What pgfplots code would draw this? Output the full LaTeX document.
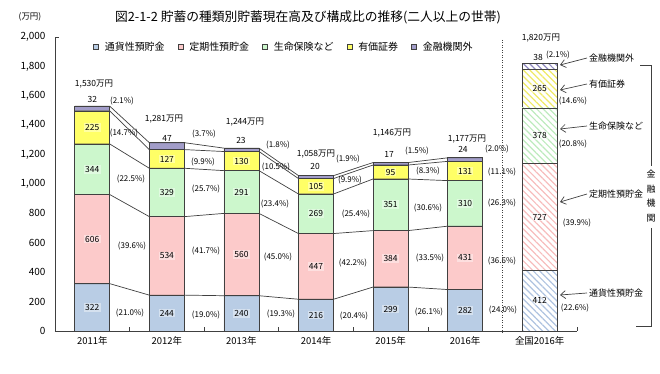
\documentclass[border=0pt]{standalone}
\usepackage{fontspec}
\setmainfont{Noto Sans CJK JP}
\usepackage{pgfplots}
\pgfplotsset{compat=1.18}
\usepackage{pgfplotstable}
\usetikzlibrary{patterns.meta,arrows.meta}

\definecolor{cA}{HTML}{B9CDE5}
\definecolor{cB}{HTML}{FCCACA}
\definecolor{cC}{HTML}{CCF7CC}
\definecolor{cD}{HTML}{FFFF66}
\definecolor{cE}{HTML}{A29DC9}
\definecolor{hA}{HTML}{AFC3E0}
\definecolor{hB}{HTML}{F7BDBD}
\definecolor{hC}{HTML}{BDEBBD}
\definecolor{hD}{HTML}{EFEA66}
\definecolor{hE}{HTML}{8F89C0}
\definecolor{edge}{HTML}{404040}

\pgfplotstableread{
x a b c d e
0 322 606 344 225 32
1 244 534 329 127 47
2 240 560 291 130 23
3 216 447 269 105 20
4 299 384 351 95 17
5 282 431 310 131 24
}\years

\pgfplotstableread{
x a b c d e
6 412 727 378 265 38
}\nation

\pgfplotstableread{
x a b c d e
-0.235 322 606 344 225 32
0.235 322 606 344 225 32
0.765 244 534 329 127 47
1.235 244 534 329 127 47
1.765 240 560 291 130 23
2.235 240 560 291 130 23
2.765 216 447 269 105 20
3.235 216 447 269 105 20
3.765 299 384 351 95 17
4.235 299 384 351 95 17
4.765 282 431 310 131 24
5.235 282 431 310 131 24
}\edges

\pgfplotstableread{
x y p
0.398 1565 2.1
0.425 1347 14.7
0.519 1034 22.5
0.533 578 39.6
0.506 122 21.0
1.498 1340 3.7
1.485 1150 9.9
1.525 966 25.7
1.525 544 41.7
1.525 109 19.0
2.490 1265 1.8
2.464 1116 10.5
2.450 864 23.4
2.490 503 45.0
2.530 116 19.3
3.429 1170 1.9
3.456 1027 9.9
3.536 796 25.4
3.496 463 42.2
3.510 102 20.4
4.354 1224 1.5
4.502 1088 8.3
4.502 837 30.6
4.529 497 33.5
4.515 129 26.1
5.427 1238 2.0
5.494 1082 11.1
5.494 871 26.3
5.494 476 36.6
5.508 143 24.0
6.245 1878 2.1
6.446 1565 14.6
6.446 1272 20.8
6.500 735 39.9
6.473 156 22.6
}\pcts

\pgfplotstableread{
x y t
0.023 1680 1,530万円
0.000 1578 32
0.962 1442 1,281万円
1.002 1313 47
2.048 1422 1,244万円
1.994 1299 23
3.000 1204 1,058万円
2.987 1116 20
4.019 1347 1,146万円
3.979 1204 17
5.025 1306 1,177万円
4.971 1238 24
6.017 1993 1,820万円
5.977 1864 38
}\tots

\pgfplotsset{
  base/.style={
    scale only axis, width=522bp, height=294bp,
    xmin=-0.5, xmax=6.5, ymin=0, ymax=2000,
    at={(55bp,43bp)}, anchor=south west, clip=false,
  },
  lbl/.style={draw=none, mark=none, forget plot,
    nodes near coords={\pgfplotspointmeta}, point meta=explicit symbolic,
    every node near coord/.append style={anchor=center, text=black,
      font=\fontsize{8.5}{10}\selectfont, inner sep=1.2pt}},
  boxlbl/.style={lbl, every node near coord/.append style={fill=white, fill opacity=0.4, text opacity=1}},
  conn/.style={draw=edge, line width=0.7bp, mark=none, forget plot},
  hatch/.style={draw=edge, line width=0.7bp, pattern={Lines[angle=-45,distance=4.5bp,line width=1.2bp]}, pattern color=#1},
}

\begin{document}
\begin{tikzpicture}
\useasboundingbox (0,0) rectangle (660bp,374bp);

% ---- axis A: yearly bars, axes, legend
\begin{axis}[base,
  ybar stacked, bar width=0.47,
  legend image code/.code={\draw[#1, line width=0.5bp] (0bp,-2.6bp) rectangle (5.2bp,2.6bp);},
  axis x line=bottom, axis y line=left,
  axis line style={-, draw=edge, line width=0.8bp},
  xtick={0,...,6},
  xticklabels={2011年,2012年,2013年,2014年,2015年,2016年,全国2016年},
  major tick length=0pt,
  extra x ticks={0.5,1.5,2.5,3.5,4.5,6.5},
  extra x tick labels={},
  extra x tick style={major tick length=4bp, tick align=inside, tick style={draw=edge, line width=0.6bp}},
  ytick={0,200,...,2000},
  /pgf/number format/assume math mode=true,
  yticklabel style={/pgf/number format/1000 sep={,}, xshift=-6bp, font=\fontsize{10}{12}\selectfont},
  xticklabel style={font=\fontsize{9.5}{11}\selectfont, yshift=-2bp},
  legend columns=5,
  legend style={at={(0.0728,0.966)}, anchor=west, draw=none, fill=none,
    font=\fontsize{10}{12}\selectfont, inner sep=0pt,
    /tikz/every odd column/.append style={column sep=4bp},
    /tikz/every even column/.append style={column sep=11bp}},
]
\addplot[fill=cA, draw=edge, line width=0.7bp] table[x=x,y=a]{\years};
\addlegendentry{通貨性預貯金}
\addplot[fill=cB, draw=edge, line width=0.7bp] table[x=x,y=b]{\years};
\addlegendentry{定期性預貯金}
\addplot[fill=cC, draw=edge, line width=0.7bp] table[x=x,y=c]{\years};
\addlegendentry{生命保険など}
\addplot[fill=cD, draw=edge, line width=0.7bp] table[x=x,y=d]{\years};
\addlegendentry{有価証券}
\addplot[fill=cE, draw=edge, line width=0.7bp] table[x=x,y=e]{\years};
\addlegendentry{金融機関外}
\end{axis}

% ---- axis B: national hatched bar
\begin{axis}[base, hide axis, ybar stacked, bar width=0.47]
\addplot[hatch=hA] table[x=x,y=a]{\nation};
\addplot[hatch=hB] table[x=x,y=b]{\nation};
\addplot[hatch=hC] table[x=x,y=c]{\nation};
\addplot[hatch=hD] table[x=x,y=d]{\nation};
\addplot[hatch=hE] table[x=x,y=e]{\nation};
\end{axis}

% ---- axis C: connecting lines and labels
\begin{axis}[base, hide axis]
\addplot[conn] table[x=x, y=a]{\edges};
\addplot[conn] table[x=x, y expr=\thisrow{a}+\thisrow{b}]{\edges};
\addplot[conn] table[x=x, y expr=\thisrow{a}+\thisrow{b}+\thisrow{c}]{\edges};
\addplot[conn] table[x=x, y expr=\thisrow{a}+\thisrow{b}+\thisrow{c}+\thisrow{d}]{\edges};
\addplot[conn] table[x=x, y expr=\thisrow{a}+\thisrow{b}+\thisrow{c}+\thisrow{d}+\thisrow{e}]{\edges};

\addplot[boxlbl] table[x=x, y expr=\thisrow{a}/2, meta=a]{\years};
\addplot[boxlbl] table[x=x, y expr=\thisrow{a}+\thisrow{b}/2, meta=b]{\years};
\addplot[boxlbl] table[x=x, y expr=\thisrow{a}+\thisrow{b}+\thisrow{c}/2, meta=c]{\years};
\addplot[boxlbl] table[x=x, y expr=\thisrow{a}+\thisrow{b}+\thisrow{c}+\thisrow{d}/2, meta=d]{\years};

\addplot[boxlbl] table[x=x, y expr=\thisrow{a}/2, meta=a]{\nation};
\addplot[boxlbl] table[x=x, y expr=\thisrow{a}+\thisrow{b}/2, meta=b]{\nation};
\addplot[boxlbl] table[x=x, y expr=\thisrow{a}+\thisrow{b}+\thisrow{c}/2, meta=c]{\nation};
\addplot[boxlbl] table[x=x, y expr=\thisrow{a}+\thisrow{b}+\thisrow{c}+\thisrow{d}/2, meta=d]{\nation};

\addplot[lbl, nodes near coords={(\pgfplotspointmeta\%)},
  every node near coord/.append style={font=\fontsize{8}{9}\selectfont}] table[x=x, y=y, meta=p]{\pcts};
\addplot[lbl, every node near coord/.append style={font=\fontsize{8.5}{10}\selectfont}] table[x=x, y=y, meta=t]{\tots};
\end{axis}

% ---- annotations
\begin{scope}[x=1bp, y=1bp]
\node[font=\fontsize{12.8}{14}\selectfont] at (308,357) {図2-1-2 貯蓄の種類別貯蓄現在高及び構成比の推移(二人以上の世帯)};
\node[font=\fontsize{8.5}{10}\selectfont] at (30,357) {(万円)};
\draw[edge, line width=0.8bp] (55,337) -- (59,337);
\draw[edge, line width=0.7bp, dash pattern=on 1bp off 1.5bp] (502.4,334) -- (502.4,41);

\begin{scope}[font=\fontsize{9}{10}\selectfont]
\node[anchor=west, inner sep=0pt] at (589,316) {金融機関外};
\node[anchor=west, inner sep=0pt] at (589,290) {有価証券};
\node[anchor=west, inner sep=0pt] at (589,248) {生命保険など};
\node[anchor=west, inner sep=0pt] at (589,180) {定期性預貯金};
\node[anchor=west, inner sep=0pt] at (589,81) {通貨性預貯金};
\end{scope}
\begin{scope}[draw=edge, line width=0.7bp, -{Straight Barb[length=5bp,width=8bp]}]
\draw (587,316) -- (560,309);
\draw (587,290) -- (560,284);
\draw (587,248) -- (560,245);
\draw (587,180) -- (560,172);
\draw (587,81) -- (560,79);
\end{scope}
\draw[edge, line width=0.8bp] (640,309) -- (651,309) -- (651,208);
\draw[edge, line width=0.8bp] (651,146) -- (651,48) -- (636,48);
\node[font=\fontsize{9}{14.7}\selectfont, align=center, inner sep=0pt] at (651,178) {金\\融\\機\\関};
\end{scope}
\end{tikzpicture}
\end{document}
